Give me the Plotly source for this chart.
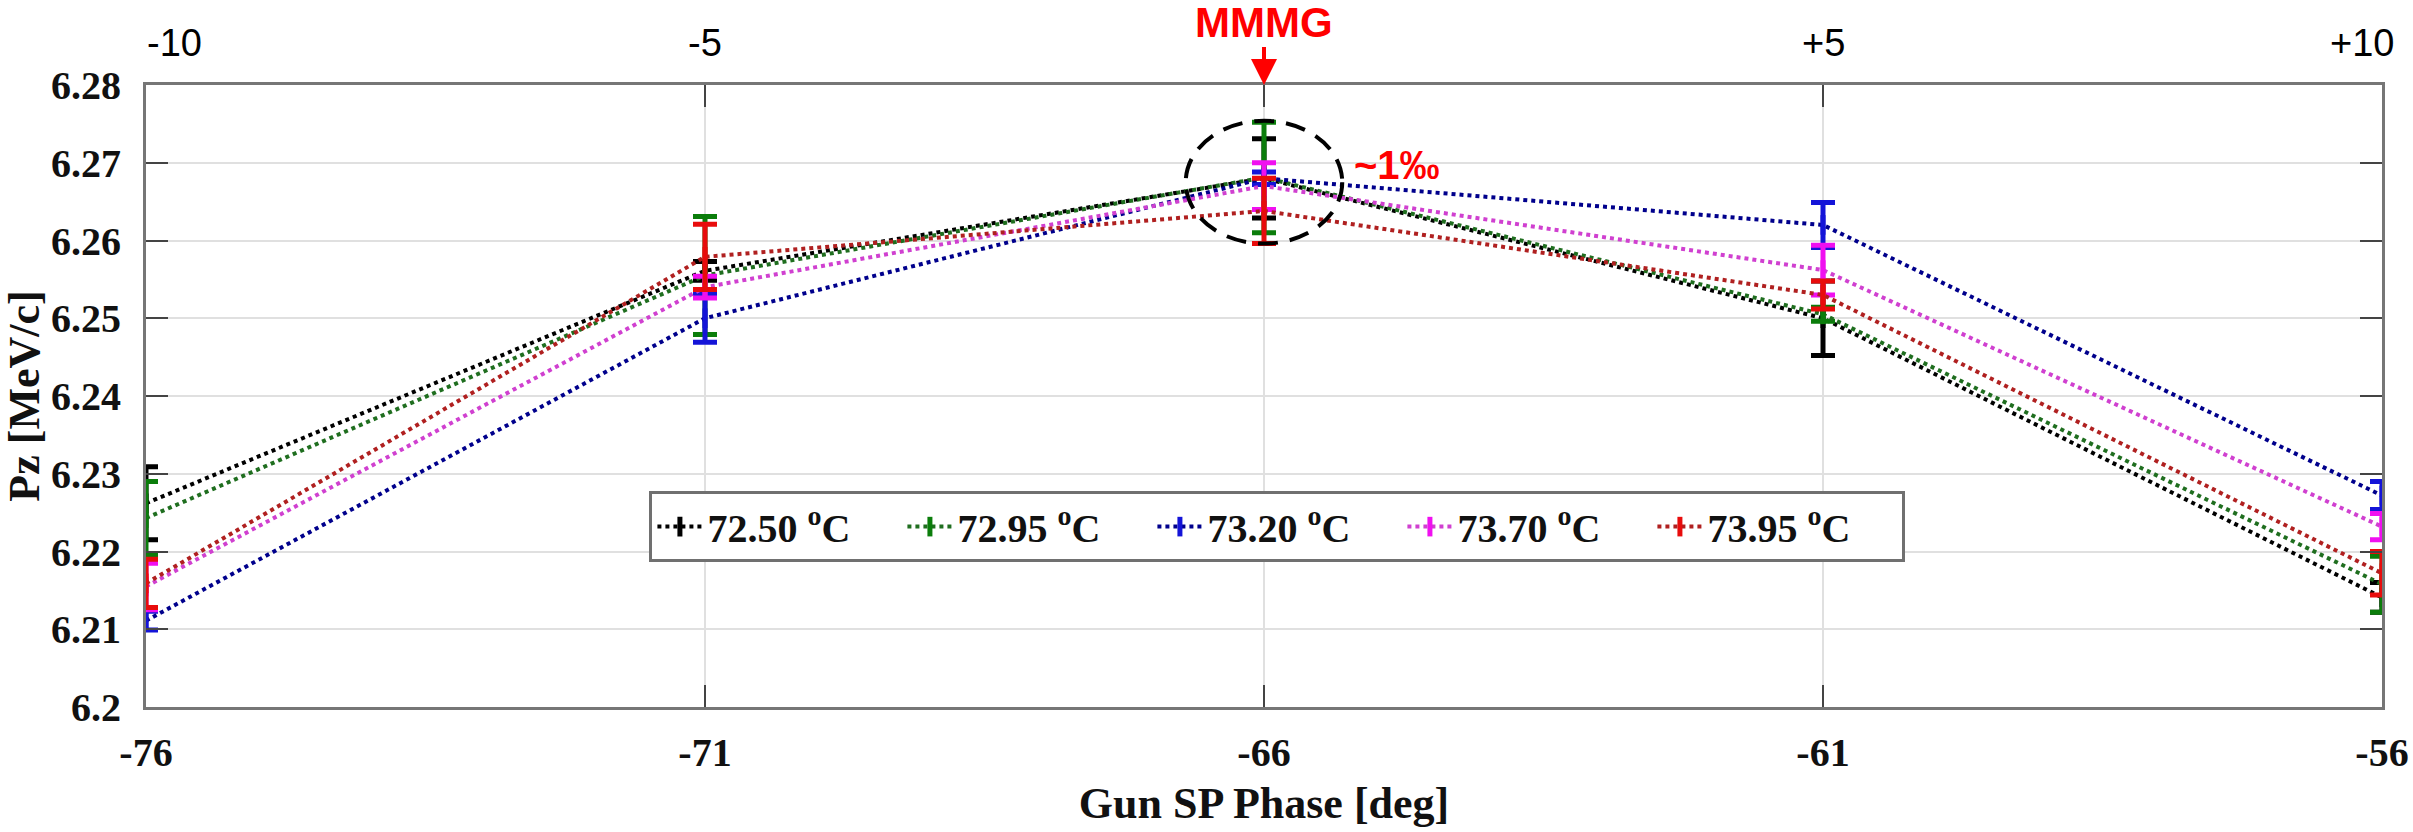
import plotly.graph_objects as go

# Gun set-point phase scan (deg) and phase offsets relative to MMMG
phase = [-76, -71, -66, -61, -56]
offset_labels = ["-10", "-5", "MMMG", "+5", "+10"]

temps = ["72.50", "72.95", "73.20", "73.70", "73.95"]

# Mean longitudinal momentum Pz (MeV/c) and its error for each gun temperature
pz_7250 = [6.2262, 6.2561, 6.2680, 6.2500, 6.2141]
err_7250 = [0.0047, 0.0012, 0.0051, 0.0048, 0.0019]

pz_7295 = [6.2243, 6.2555, 6.2681, 6.2505, 6.2158]
err_7295 = [0.0047, 0.0076, 0.0071, 0.0009, 0.0036]

pz_7320 = [6.2111, 6.2500, 6.2680, 6.2620, 6.2272]
err_7320 = [0.0012, 0.0031, 0.0008, 0.0029, 0.0018]

pz_7370 = [6.2155, 6.2540, 6.2670, 6.2562, 6.2232]
err_7370 = [0.0030, 0.0014, 0.0030, 0.0032, 0.0017]

pz_7395 = [6.2159, 6.2579, 6.2638, 6.2530, 6.2172]
err_7395 = [0.0031, 0.0042, 0.0042, 0.0018, 0.0028]

ytick_vals = [6.20, 6.21, 6.22, 6.23, 6.24, 6.25, 6.26, 6.27, 6.28]
ytick_text = ["6.2", "6.21", "6.22", "6.23", "6.24", "6.25", "6.26", "6.27", "6.28"]

series = [
    (temps[0], pz_7250, err_7250, "#000000", "#000000"),
    (temps[1], pz_7295, err_7295, "#1f6e1f", "#0b7d0b"),
    (temps[2], pz_7320, err_7320, "#00008c", "#1414d8"),
    (temps[3], pz_7370, err_7370, "#d040d0", "#f010f0"),
    (temps[4], pz_7395, err_7395, "#b02020", "#e80c0c"),
]

SERIF = "Liberation Serif, Times New Roman, serif"
SANS = "Liberation Sans, Arial, sans-serif"

fig = go.Figure()
for name, vals, errs, line_col, bar_col in series:
    fig.add_trace(go.Scatter(
        x=phase, y=vals,
        mode="lines+markers",
        name=f"{name} <sup>o</sup>C",
        cliponaxis=False,
        line=dict(color=line_col, width=4, dash="dot"),
        marker=dict(symbol="line-ns", size=14, color=bar_col,
                    line=dict(color=bar_col, width=5)),
        error_y=dict(type="data", array=errs, visible=True,
                     color=bar_col, thickness=5, width=12),
    ))

axis_common = dict(
    showline=True, linecolor="#767676", linewidth=3, mirror="ticks",
    ticks="inside", ticklen=22, tickwidth=2, tickcolor="#444444",
    showgrid=True, gridcolor="#e0e0e0", gridwidth=2,
    zeroline=False, automargin=False,
    tickfont=dict(family=SERIF, size=40, color="#111111", weight=700),
)

fig.update_xaxes(
    range=[-76, -56], tickvals=phase, ticktext=[str(p) for p in phase],
    ticklabelstandoff=8,
    title=dict(text="Gun SP Phase [deg]", standoff=14,
               font=dict(family=SERIF, size=44, color="#111111", weight=700)),
    **axis_common,
)
fig.update_yaxes(
    range=[6.2, 6.28], tickvals=ytick_vals, ticktext=ytick_text,
    ticklabelstandoff=14,
    title=dict(text="Pz [MeV/c]", standoff=8,
               font=dict(family=SERIF, size=44, color="#111111", weight=700)),
    **axis_common,
)

# Phase offsets written along the top of the frame
label_shift = {"-10": 28, "+10": -20}
annotations = []
for p, lab in zip(phase, offset_labels):
    if lab == "MMMG":
        annotations.append(dict(
            x=p, xref="x", y=1, yref="paper",
            text="<b>MMMG</b>", showarrow=True,
            ax=0, ay=-63, arrowhead=2, arrowsize=1.3, arrowwidth=4,
            arrowcolor="#ff0000", standoff=0,
            font=dict(family=SANS, size=42, color="#ff0000"),
        ))
    else:
        annotations.append(dict(
            x=p, xref="x", y=1.0675, yref="paper",
            xanchor="center", yanchor="middle",
            xshift=label_shift.get(lab, 0),
            text=lab, showarrow=False,
            font=dict(family=SANS, size=38, color="#000000"),
        ))

annotations.append(dict(
    x=-65.21, xref="x", y=6.2697, yref="y",
    xanchor="left", yanchor="middle",
    text="<b>~1‰</b>", showarrow=False,
    font=dict(family=SANS, size=40, color="#ff0000"),
))

fig.update_layout(
    width=2413, height=832,
    margin=dict(l=146, r=31, t=85, b=125),
    paper_bgcolor="white", plot_bgcolor="white",
    annotations=annotations,
    shapes=[dict(
        type="circle", xref="x", yref="y",
        x0=-66.70, x1=-65.30, y0=6.2596, y1=6.2754,
        line=dict(color="#000000", width=4, dash="20px,12px"),
    )],
    legend=dict(
        orientation="h", x=0.506, xanchor="center", y=0.29, yanchor="middle",
        bgcolor="white", bordercolor="#707070", borderwidth=3,
        font=dict(family=SERIF, size=40, color="#111111", weight=700),
        itemwidth=45, entrywidth=190, entrywidthmode="pixels",
    ),
    showlegend=True,
)

fig.write_html("out.html")
